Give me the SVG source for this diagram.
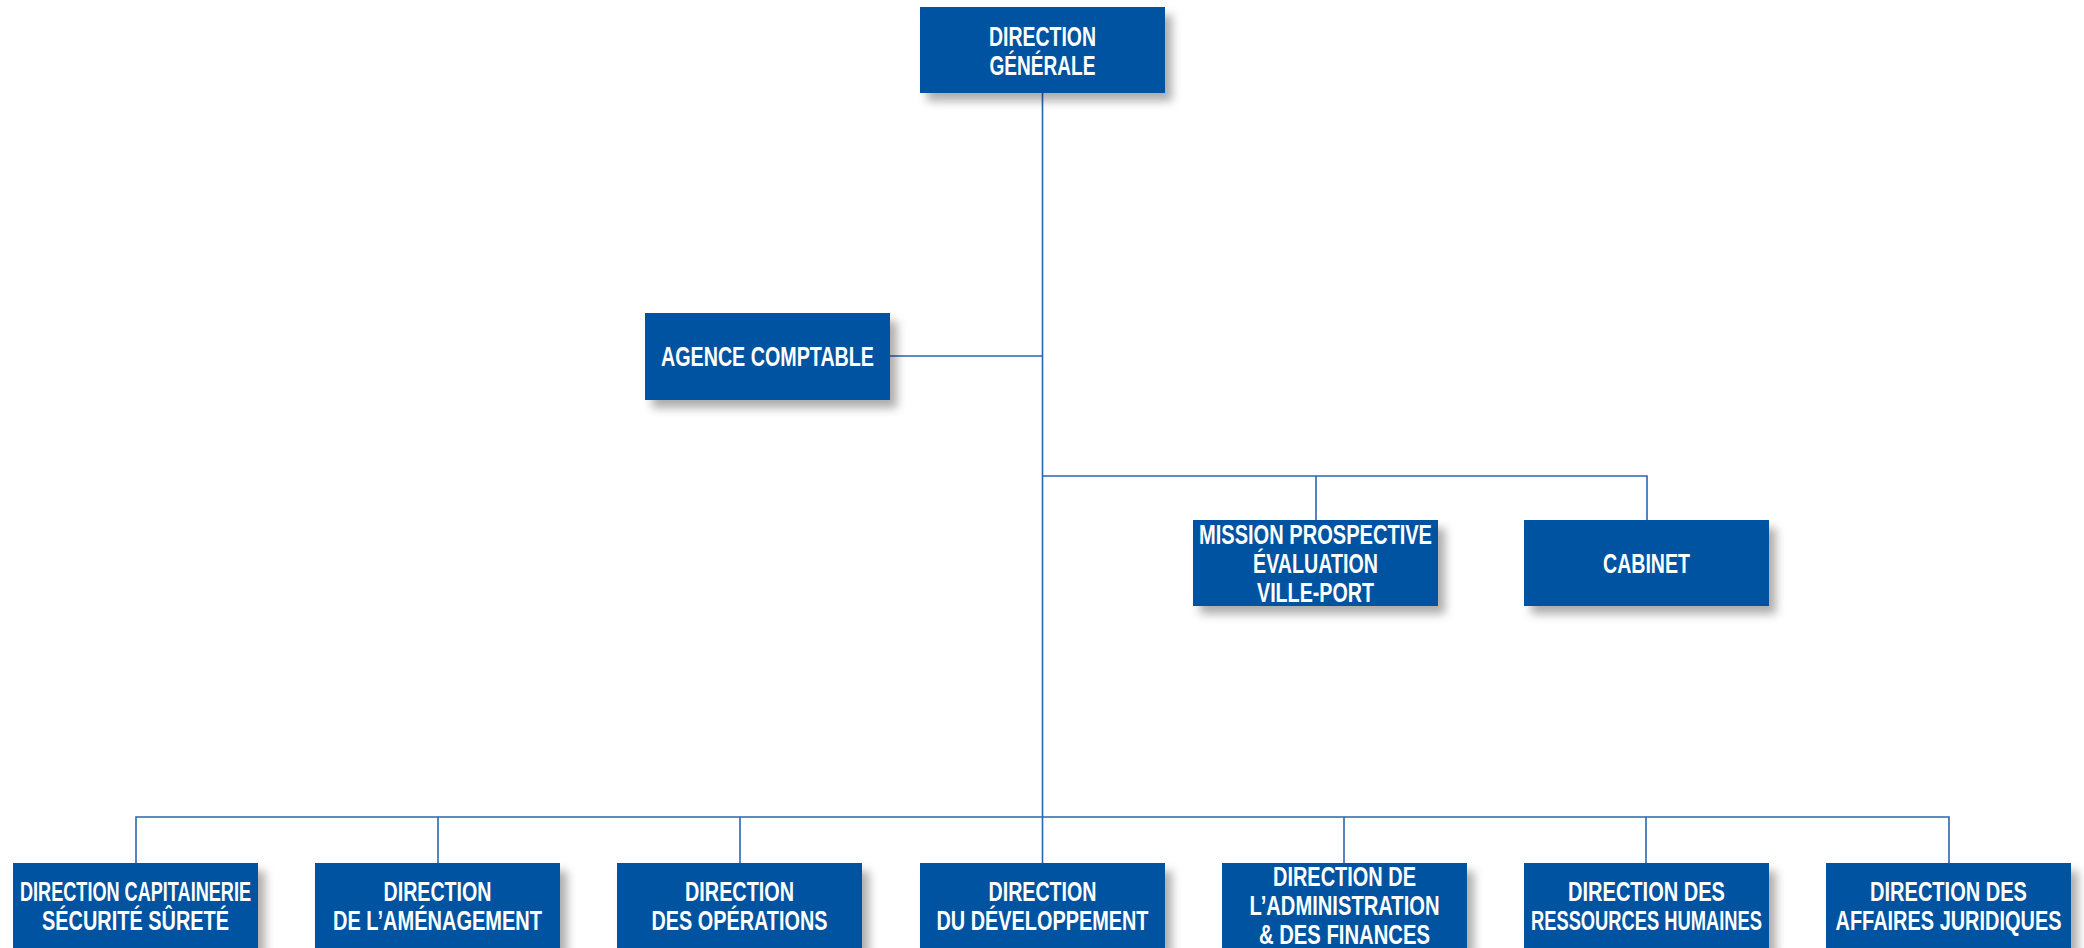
<svg xmlns="http://www.w3.org/2000/svg" width="2084" height="948" viewBox="0 0 2084 948">
<defs>
<filter id="sh" x="-20%" y="-30%" width="150%" height="180%">
<feDropShadow dx="7" dy="8" stdDeviation="5" flood-color="#000" flood-opacity="0.32"/>
</filter>
<style>
.box{fill:#0053a0;filter:url(#sh);}
.t{font-family:"Liberation Sans",Arial,sans-serif;font-size:27px;font-weight:bold;fill:#fff;text-anchor:middle;}
.ln{stroke:#2d64ae;stroke-width:1.6;fill:none;}
</style>
</defs>
<rect width="2084" height="948" fill="#fff"/>
<g id="connectors">
<line class="ln" x1="1042.5" y1="93" x2="1042.5" y2="817"/>
<line class="ln" x1="890" y1="356" x2="1042.5" y2="356"/>
<polyline class="ln" points="1042.5,476 1647,476 1647,520"/>
<line class="ln" x1="1316" y1="476" x2="1316" y2="520"/>
<polyline class="ln" points="136,863 136,817 1949,817 1949,863"/>
<line class="ln" x1="438" y1="817" x2="438" y2="863"/>
<line class="ln" x1="740" y1="817" x2="740" y2="863"/>
<line class="ln" x1="1042.5" y1="817" x2="1042.5" y2="863"/>
<line class="ln" x1="1344" y1="817" x2="1344" y2="863"/>
<line class="ln" x1="1646" y1="817" x2="1646" y2="863"/>
</g>
<g id="direction-generale">
<rect class="box" x="920" y="7" width="245" height="86"/>
<text class="t"><tspan x="1042.5" y="45.5" textLength="107" lengthAdjust="spacingAndGlyphs">DIRECTION</tspan><tspan x="1042.5" y="74.5" textLength="106" lengthAdjust="spacingAndGlyphs">GÉNÉRALE</tspan></text>
</g>
<g id="agence-comptable">
<rect class="box" x="645" y="313" width="245" height="87"/>
<text class="t"><tspan x="767.5" y="366" textLength="213" lengthAdjust="spacingAndGlyphs">AGENCE COMPTABLE</tspan></text>
</g>
<g id="mission-prospective">
<rect class="box" x="1193" y="520" width="245" height="86"/>
<text class="t"><tspan x="1315.5" y="544" textLength="233" lengthAdjust="spacingAndGlyphs">MISSION PROSPECTIVE</tspan><tspan x="1315.5" y="573" textLength="125" lengthAdjust="spacingAndGlyphs">ÉVALUATION</tspan><tspan x="1315.5" y="602" textLength="117" lengthAdjust="spacingAndGlyphs">VILLE-PORT</tspan></text>
</g>
<g id="cabinet">
<rect class="box" x="1524" y="520" width="245" height="86"/>
<text class="t"><tspan x="1646.5" y="572.5" textLength="87" lengthAdjust="spacingAndGlyphs">CABINET</tspan></text>
</g>
<g id="direction-capitainerie">
<rect class="box" x="13" y="863" width="245" height="87"/>
<text class="t"><tspan x="135.5" y="901" textLength="231" lengthAdjust="spacingAndGlyphs">DIRECTION CAPITAINERIE</tspan><tspan x="135.5" y="930" textLength="187" lengthAdjust="spacingAndGlyphs">SÉCURITÉ SÛRETÉ</tspan></text>
</g>
<g id="direction-amenagement">
<rect class="box" x="315" y="863" width="245" height="87"/>
<text class="t"><tspan x="437.5" y="901" textLength="108" lengthAdjust="spacingAndGlyphs">DIRECTION</tspan><tspan x="437.5" y="930" textLength="209" lengthAdjust="spacingAndGlyphs">DE L’AMÉNAGEMENT</tspan></text>
</g>
<g id="direction-operations">
<rect class="box" x="617" y="863" width="245" height="87"/>
<text class="t"><tspan x="739.5" y="901" textLength="109" lengthAdjust="spacingAndGlyphs">DIRECTION</tspan><tspan x="739.5" y="930" textLength="176" lengthAdjust="spacingAndGlyphs">DES OPÉRATIONS</tspan></text>
</g>
<g id="direction-developpement">
<rect class="box" x="920" y="863" width="245" height="87"/>
<text class="t"><tspan x="1042.5" y="901" textLength="108" lengthAdjust="spacingAndGlyphs">DIRECTION</tspan><tspan x="1042.5" y="930" textLength="212" lengthAdjust="spacingAndGlyphs">DU DÉVELOPPEMENT</tspan></text>
</g>
<g id="direction-administration">
<rect class="box" x="1222" y="863" width="245" height="87"/>
<text class="t"><tspan x="1344.5" y="885.5" textLength="143" lengthAdjust="spacingAndGlyphs">DIRECTION DE</tspan><tspan x="1344.5" y="914.5" textLength="190" lengthAdjust="spacingAndGlyphs">L’ADMINISTRATION</tspan><tspan x="1344.5" y="943.5" textLength="171" lengthAdjust="spacingAndGlyphs">&amp; DES FINANCES</tspan></text>
</g>
<g id="direction-rh">
<rect class="box" x="1524" y="863" width="245" height="87"/>
<text class="t"><tspan x="1646.5" y="901" textLength="157" lengthAdjust="spacingAndGlyphs">DIRECTION DES</tspan><tspan x="1646.5" y="930" textLength="231" lengthAdjust="spacingAndGlyphs">RESSOURCES HUMAINES</tspan></text>
</g>
<g id="direction-juridiques">
<rect class="box" x="1826" y="863" width="245" height="87"/>
<text class="t"><tspan x="1948.5" y="901" textLength="157" lengthAdjust="spacingAndGlyphs">DIRECTION DES</tspan><tspan x="1948.5" y="930" textLength="226" lengthAdjust="spacingAndGlyphs">AFFAIRES JURIDIQUES</tspan></text>
</g>
</svg>
